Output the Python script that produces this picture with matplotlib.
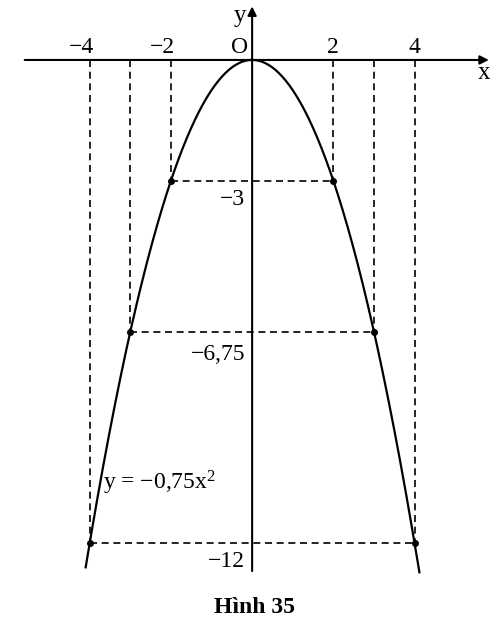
import numpy as np
import matplotlib.pyplot as plt

# parabola y = -0.75 x^2 and the marked points
coef = -0.75
x_marked = [-4, -3, -2, 2, 3, 4]
x_ticks = [-4, -2, 2, 4]
x_tick_labels = ["\u22124", "\u22122", "2", "4"]
y_levels = [-3, -6.75, -12]
y_level_labels = ["\u22123", "\u22126,75", "\u221212"]


def main():
    plt.rcParams["font.family"] = ["Liberation Serif", "DejaVu Serif"]
    plt.rcParams["mathtext.fontset"] = "custom"
    plt.rcParams["mathtext.rm"] = "Liberation Serif"
    plt.rcParams["mathtext.it"] = "Liberation Serif:italic"

    fig = plt.figure(figsize=(5.01, 6.29), dpi=100)
    ax = fig.add_axes([0, 0, 1, 1])
    ax.set_xlim(-6.21, 6.13)
    ax.set_ylim(-14.14, 1.49)
    ax.axis("off")

    dash = dict(color="black", lw=1.2, linestyle=(0, (4.2, 2.8)))

    # axes with arrows
    ax.annotate("", xy=(5.9, 0), xytext=(-5.67, 0),
                arrowprops=dict(arrowstyle="-|>", color="black", lw=1.5,
                                mutation_scale=13))
    ax.annotate("", xy=(0, 1.4), xytext=(0, -12.77),
                arrowprops=dict(arrowstyle="-|>", color="black", lw=1.5,
                                mutation_scale=13))

    # curve
    xs = np.linspace(-4.1, 4.12, 400)
    ax.plot(xs, coef * xs ** 2, color="black", lw=1.6)

    # guide lines
    for xv in x_marked:
        yv = coef * xv ** 2
        ax.plot([xv, xv], [0, yv], **dash)
    for yv in y_levels:
        xv = np.sqrt(yv / coef)
        ax.plot([-xv, xv], [yv, yv], **dash)

    ys = [coef * xv ** 2 for xv in x_marked]
    ax.plot(x_marked, ys, "o", color="black", ms=4)

    # labels
    fs = 17
    for xv, lab in zip(x_ticks, x_tick_labels):
        shift = -0.2 if xv < 0 else 0
        ax.text(xv + shift, 0.17, lab, ha="center", va="baseline", fontsize=fs)
    ax.text(-0.1, 0.17, "O", ha="right", va="baseline", fontsize=fs)
    ax.text(-0.15, 1.1, "y", ha="right", va="center", fontsize=fs + 1)
    ax.text(5.7, -0.33, "x", ha="center", va="center", fontsize=fs + 1)
    baselines = [-3.6, -7.45, -12.6]
    for yb, lab in zip(baselines, y_level_labels):
        ax.text(-0.17, yb, lab, ha="right", va="baseline", fontsize=fs)

    ax.text(-3.68, -10.68, "y = \u22120,75x$^{\\mathrm{2}}$", ha="left",
            va="baseline", fontsize=fs)
    ax.text(0.07, -13.6, "H\u00ecnh 35", ha="center", va="center",
            fontsize=17, fontweight="bold")

    fig.savefig("out.png", dpi=100)
    plt.close(fig)


if __name__ == "__main__":
    main()
